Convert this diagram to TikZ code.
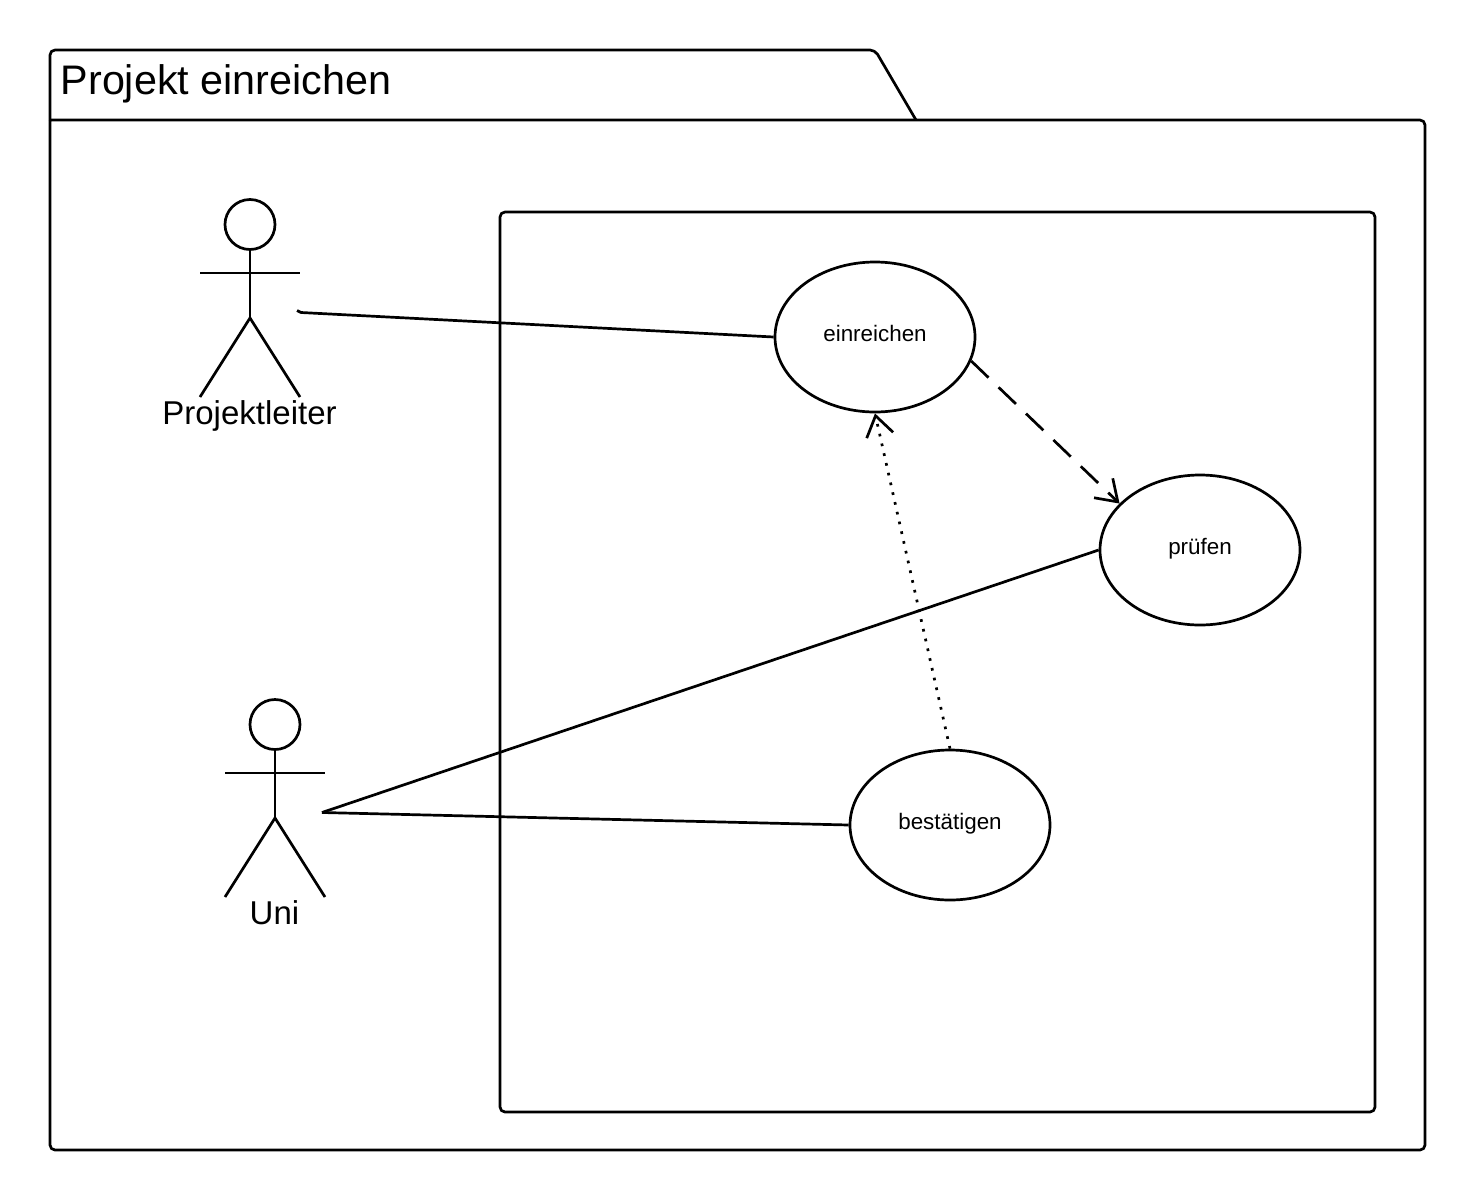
\documentclass[tikz,border=0pt]{standalone}
\usepackage{fontspec}
\setmainfont{Liberation Sans}
\usetikzlibrary{shapes.geometric}
\usetikzlibrary{arrows.meta}
\tikzset{>={Straight Barb[length=20pt,width=27pt,line width=2.7pt]}}
\tikzset{uml/.style={line width=2.7pt, line join=round}}
\tikzset{usecase/.style={uml, draw, ellipse, fill=white, inner sep=0pt,
    minimum width=200pt, minimum height=150pt, text height=25pt, text depth=16pt,
    font=\fontsize{22.4}{24}\selectfont}}
\tikzset{actorname/.style={font=\fontsize{33}{38}\selectfont, inner sep=0pt, anchor=base}}
\newcommand{\ACTOR}[4]{% name, x, y, label
  \node[uml, draw, circle, inner sep=0pt, minimum size=50pt] (#1head) at (#2, #3) {};
  \coordinate (#1hip) at (#2, #3+93.5);
  \coordinate (#1larm) at (#2-50, #3+48.5);
  \coordinate (#1rarm) at (#2+50, #3+48.5);
  \coordinate (#1lleg) at (#2-50, #3+172.5);
  \coordinate (#1rleg) at (#2+50, #3+172.5);
  \draw[uml] (#1head.south) -- (#1hip);
  \draw[uml] (#1larm) -- (#1rarm);
  \draw[uml] (#1lleg) -- (#1hip) -- (#1rleg);
  \node[actorname] (#1name) at (#2-0.5, #3+199.5) {#4};
}

\begin{document}
\begin{tikzpicture}[x=1pt, y=-1pt]

  \useasboundingbox (0,0) rectangle (1475,1200); %% positioning
  \fill[white] (0,0) rectangle (1475,1200);

  %% package frame
  \draw[uml, rounded corners=5pt] (50,120) -- (50,50) -- (875,50) -- (916,120);
  \draw[uml, rounded corners=5pt] (50,120) -- (50,1150) -- (1425,1150) -- (1425,120) -- (50,120);
  \node[anchor=base west, inner sep=0pt, font=\fontsize{41.3}{46}\selectfont] (title) at (60.5,94) {Projekt einreichen};

  \draw[uml, rounded corners=5pt] (500,212) rectangle (1375,1112);

  \ACTOR{leiter}{250}{224.5}{Projektleiter}
  \ACTOR{uni}{275}{724.5}{Uni}
  \coordinate (leiterhand) at (297,310.5);
  \coordinate (leiterbend) at (301,312.5);
  \coordinate (unihand) at (322,812.5);

  \node[usecase] (einreichen) at (875,337) {einreichen};
  \node[usecase] (pruefen) at (1200,550) {prüfen};
  \node[usecase] (bestaetigen) at (950,825) {bestätigen};

  \draw[uml] (leiterhand) -- (leiterbend) -- (einreichen.west);
  \draw[uml] (unihand) -- (pruefen.west);
  \draw[uml] (unihand) -- (bestaetigen.west);

  \draw[->, uml, dash pattern=on 24pt off 14pt] (einreichen.-14) -- (pruefen.150);
  \draw[->, uml, dash pattern=on 2.7pt off 7.3pt] (bestaetigen.north) -- (einreichen.south);

\end{tikzpicture}
\end{document}
